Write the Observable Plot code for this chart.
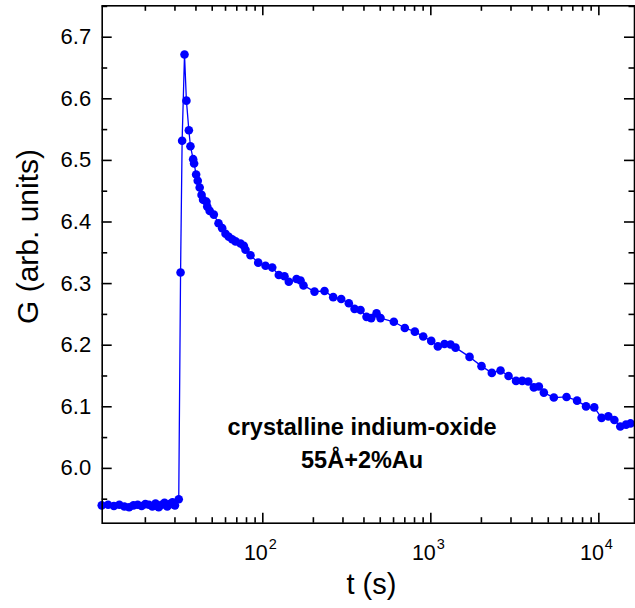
<!DOCTYPE html>
<html><head><meta charset="utf-8">
<script src="https://cdn.jsdelivr.net/npm/d3@7"></script>
<script src="https://cdn.jsdelivr.net/npm/@observablehq/plot@0.6"></script>
<style>
body{margin:0;background:#fff}
svg{font-family:"Liberation Sans",Arial,sans-serif}
</style>
</head><body><div id="chart"></div>
<script>
// time in seconds
const timeS = [11,12,13,14,15,16,17,18,19,20,21,22,23,24,25,26,27,28,29,30,31.6,
32.4,33.1,34.2,35.1,36.3,37.1,38.5,39.0,40.1,41.0,42.1,43.2,44.1,46.2,46.7,48.3,51.1,54.5,57.3,60.0,
62.7,65.7,68.8,73.7,77.1,78.9,84.5,93.9,103.8,113.8,124.5,134.6,142.8,158.8,167.7,174.7,203.1,233.0,262.4,292.9,
325.0,351.5,381.5,414.3,441.9,475.2,501.9,602.3,700.3,803.2,901.0,1005.6,1101,1206,1310,1403,1700,2003,2307,2599,
2901,3215,3499,3800,4103,4396,4706,5397,6423,7418,8391,9389,10378,11390,12370,13412,14519,15443];
// conductance G (arb. units)
const conductance = [5.940,5.941,5.939,5.941,5.938,5.937,5.940,5.941,5.939,5.942,5.941,5.938,5.943,5.937,5.941,5.944,5.938,5.942,5.945,5.940,5.950,
6.318,6.532,6.672,6.597,6.549,6.523,6.502,6.495,6.477,6.467,6.456,6.444,6.436,6.433,6.425,6.418,6.412,6.398,6.390,6.381,
6.376,6.372,6.3685,6.365,6.3615,6.355,6.346,6.334,6.329,6.326,6.314,6.312,6.303,6.3075,6.305,6.297,6.287,6.288,6.278,6.275,
6.268,6.259,6.257,6.246,6.244,6.2516,6.244,6.238,6.228,6.222,6.214,6.207,6.198,6.202,6.201,6.196,6.181,6.166,6.155,6.159,
6.150,6.142,6.142,6.141,6.1315,6.133,6.123,6.115,6.116,6.110,6.1006,6.099,6.082,6.0844,6.0786,6.068,6.071,6.073];

const xMajor = [100, 1000, 10000];
const xMinor = [20,30,40,50,60,70,80,90,200,300,400,500,600,700,800,900,2000,3000,4000,5000,6000,7000,8000,9000];
const yMajor = [6.0,6.1,6.2,6.3,6.4,6.5,6.6,6.7];
const yMinor = [5.95,6.05,6.15,6.25,6.35,6.45,6.55,6.65,6.75];
const xTitle = ["t (s)"];
const yTitle = ["G (arb. units)"];
const annotation = [{t: 390, G: 6.0, text: "crystalline indium-oxide\n55Å+2%Au"}];

const data = timeS.map((t, i) => ({t, G: conductance[i]}));
const blue = "#0000ff";
const font = "Liberation Sans, Arial, sans-serif";

const W = 635, H = 608, mL = 101.7, mR = 1, mT = 5.3, mB = 85.3;
const pw = W - mL - mR, ph = H - mT - mB;
const majorLen = 10, minorLen = 5.5, tw = 1.6;
const tc = "black";

const chart = Plot.plot({
  width: W, height: H,
  marginLeft: mL, marginRight: mR, marginTop: mT, marginBottom: mB,
  style: {fontFamily: font, background: "white", color: "black", overflow: "visible"},
  x: {type: "log", domain: [11.07, 16300], axis: null},
  y: {domain: [5.911, 6.751], axis: null},
  marks: [
    // inward ticks on all four sides
    Plot.tickX(xMajor, {x: d => d, insetTop: ph - majorLen, stroke: tc, strokeWidth: tw}),
    Plot.tickX(xMinor, {x: d => d, insetTop: ph - minorLen, stroke: tc, strokeWidth: tw}),
    Plot.tickX(xMajor, {x: d => d, insetBottom: ph - majorLen, stroke: tc, strokeWidth: tw}),
    Plot.tickX(xMinor, {x: d => d, insetBottom: ph - minorLen, stroke: tc, strokeWidth: tw}),
    Plot.tickY(yMajor, {y: d => d, insetRight: pw - majorLen, stroke: tc, strokeWidth: tw}),
    Plot.tickY(yMinor, {y: d => d, insetRight: pw - minorLen, stroke: tc, strokeWidth: tw}),
    Plot.tickY(yMajor, {y: d => d, insetLeft: pw - majorLen, stroke: tc, strokeWidth: tw}),
    Plot.tickY(yMinor, {y: d => d, insetLeft: pw - minorLen, stroke: tc, strokeWidth: tw}),
    Plot.line(data, {x: "t", y: "G", stroke: blue, strokeWidth: 1.3}),
    Plot.dot(data, {x: "t", y: "G", r: 4.3, fill: blue, stroke: "none"}),
    Plot.axisY({ticks: yMajor, anchor: "left", tickSize: 0, tickPadding: 11, tickFormat: d3.format(".1f"), fontSize: 22, label: null}),
    Plot.text(xMajor, {x: d => d, text: () => "10", frameAnchor: "bottom", lineAnchor: "bottom", dy: 37, dx: 5, textAnchor: "end", fontSize: 21.5}),
    Plot.text(xMajor, {x: d => d, text: d => String(Math.round(Math.log10(d))), frameAnchor: "bottom", lineAnchor: "bottom", dy: 26, dx: 6, textAnchor: "start", fontSize: 14.5}),
    Plot.text(xTitle, {text: d => d, frameAnchor: "bottom", textAnchor: "middle", lineAnchor: "bottom", dy: 71, dx: 3, fontSize: 29}),
    Plot.text(yTitle, {text: d => d, frameAnchor: "left", textAnchor: "middle", rotate: -90, lineAnchor: "middle", dx: -73.7, dy: -28, fontSize: 30}),
    Plot.text(annotation, {x: "t", y: "G", text: "text", lineAnchor: "bottom", lineHeight: 1.42, fontSize: 23.5, fontWeight: "bold", textAnchor: "middle"}),
    Plot.frame({stroke: "black", strokeWidth: 1.6})
  ]
});
document.getElementById("chart").appendChild(chart);
</script>
</body></html>
